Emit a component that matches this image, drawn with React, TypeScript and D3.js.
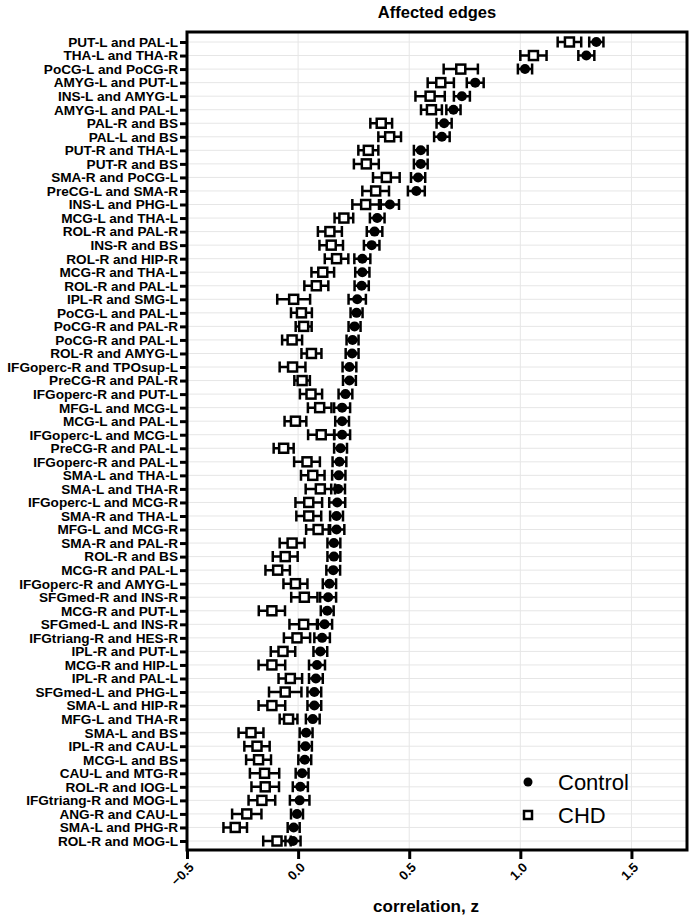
import React, { useEffect, useRef } from 'react';
import * as d3 from 'd3';

const labels = [
  'PUT-L and PAL-L', 'THA-L and THA-R', 'PoCG-L and PoCG-R', 'AMYG-L and PUT-L', 'INS-L and AMYG-L',
  'AMYG-L and PAL-L', 'PAL-R and BS', 'PAL-L and BS', 'PUT-R and THA-L', 'PUT-R and BS',
  'SMA-R and PoCG-L', 'PreCG-L and SMA-R', 'INS-L and PHG-L', 'MCG-L and THA-L', 'ROL-R and PAL-R',
  'INS-R and BS', 'ROL-R and HIP-R', 'MCG-R and THA-L', 'ROL-R and PAL-L', 'IPL-R and SMG-L',
  'PoCG-L and PAL-L', 'PoCG-R and PAL-R', 'PoCG-R and PAL-L', 'ROL-R and AMYG-L', 'IFGoperc-R and TPOsup-L',
  'PreCG-R and PAL-R', 'IFGoperc-R and PUT-L', 'MFG-L and MCG-L', 'MCG-L and PAL-L', 'IFGoperc-L and MCG-L',
  'PreCG-R and PAL-L', 'IFGoperc-R and PAL-L', 'SMA-L and THA-L', 'SMA-L and THA-R', 'IFGoperc-L and MCG-R',
  'SMA-R and THA-L', 'MFG-L and MCG-R', 'SMA-R and PAL-R', 'ROL-R and BS', 'MCG-R and PAL-L',
  'IFGoperc-R and AMYG-L', 'SFGmed-R and INS-R', 'MCG-R and PUT-L', 'SFGmed-L and INS-R', 'IFGtriang-R and HES-R',
  'IPL-R and PUT-L', 'MCG-R and HIP-L', 'IPL-R and PAL-L', 'SFGmed-L and PHG-L', 'SMA-L and HIP-R',
  'MFG-L and THA-R', 'SMA-L and BS', 'IPL-R and CAU-L', 'MCG-L and BS', 'CAU-L and MTG-R',
  'ROL-R and IOG-L', 'IFGtriang-R and MOG-L', 'ANG-R and CAU-L', 'SMA-L and PHG-R', 'ROL-R and MOG-L',
];

const controlMean = [
  1.342, 1.297, 1.021, 0.797, 0.737, 0.699, 0.657, 0.647, 0.552, 0.552,
  0.540, 0.532, 0.413, 0.356, 0.344, 0.331, 0.289, 0.289, 0.286, 0.266,
  0.263, 0.254, 0.245, 0.243, 0.231, 0.231, 0.213, 0.198, 0.198, 0.198,
  0.191, 0.186, 0.183, 0.180, 0.176, 0.173, 0.173, 0.161, 0.161, 0.158,
  0.141, 0.135, 0.131, 0.119, 0.108, 0.100, 0.085, 0.080, 0.073, 0.073,
  0.066, 0.036, 0.033, 0.030, 0.018, 0.010, 0.007, -0.005, -0.020, -0.023,
];
const controlErr = [
  0.032, 0.036, 0.032, 0.038, 0.036, 0.032, 0.034, 0.035, 0.031, 0.031,
  0.032, 0.038, 0.041, 0.033, 0.035, 0.035, 0.036, 0.032, 0.032, 0.039,
  0.027, 0.027, 0.027, 0.029, 0.031, 0.029, 0.031, 0.036, 0.031, 0.036,
  0.029, 0.031, 0.030, 0.031, 0.036, 0.029, 0.035, 0.029, 0.029, 0.031,
  0.030, 0.036, 0.029, 0.034, 0.035, 0.031, 0.036, 0.031, 0.031, 0.031,
  0.031, 0.029, 0.029, 0.029, 0.029, 0.034, 0.044, 0.027, 0.027, 0.034,
];
const chdMean = [
  1.221, 1.059, 0.732, 0.642, 0.594, 0.600, 0.374, 0.412, 0.316, 0.307,
  0.397, 0.349, 0.304, 0.206, 0.143, 0.149, 0.173, 0.111, 0.082, -0.020,
  0.015, 0.025, -0.027, 0.060, -0.025, 0.018, 0.058, 0.097, -0.012, 0.104,
  -0.065, 0.040, 0.066, 0.100, 0.048, 0.048, 0.090, -0.027, -0.058, -0.092,
  -0.012, 0.028, -0.118, 0.025, -0.005, -0.068, -0.118, -0.035, -0.058, -0.118,
  -0.043, -0.212, -0.185, -0.178, -0.151, -0.148, -0.163, -0.231, -0.283, -0.095,
];
const chdErr = [
  0.053, 0.059, 0.077, 0.059, 0.066, 0.047, 0.049, 0.051, 0.045, 0.056,
  0.060, 0.060, 0.060, 0.042, 0.054, 0.053, 0.053, 0.051, 0.054, 0.074,
  0.047, 0.036, 0.045, 0.045, 0.058, 0.035, 0.050, 0.053, 0.049, 0.059,
  0.045, 0.058, 0.053, 0.066, 0.060, 0.056, 0.054, 0.056, 0.056, 0.055,
  0.054, 0.059, 0.059, 0.064, 0.059, 0.055, 0.060, 0.053, 0.073, 0.060,
  0.040, 0.056, 0.057, 0.056, 0.066, 0.062, 0.060, 0.066, 0.053, 0.062,
];

const xTicks = [-0.5, 0, 0.5, 1.0, 1.5];

const FONT = 'Arial, "Liberation Sans", Helvetica, sans-serif';

export default function App() {
  const svgRef = useRef(null);

  useEffect(() => {
    document.body.style.margin = '0';
    const w = 694;
    const h = 919;
    const left = 187, right = 687, top = 32, bottom = 850;

    const svg = d3.select(svgRef.current)
      .attr('width', w)
      .attr('height', h)
      .style('display', 'block')
      .style('font-family', FONT);
    svg.selectAll('*').remove();

    const x = d3.scaleLinear().domain([-0.5, 1.75]).range([left, right]);
    const y = d3.scalePoint().domain(labels).range([top + 10, bottom - 9]);

    // grid
    const grid = svg.append('g').attr('stroke', '#e6e6e6').attr('stroke-width', 1);
    grid.selectAll('line.v')
      .data(xTicks)
      .enter()
      .append('line')
      .attr('x1', d => x(d)).attr('x2', d => x(d))
      .attr('y1', top).attr('y2', bottom);
    grid.selectAll('line.h')
      .data(labels)
      .enter()
      .append('line')
      .attr('x1', left).attr('x2', right)
      .attr('y1', d => y(d)).attr('y2', d => y(d));

    // y axis labels + ticks
    const yAxis = d3.axisLeft(y).tickSize(7).tickPadding(2);
    const gy = svg.append('g').attr('transform', `translate(${left},0)`).call(yAxis);
    gy.select('.domain').remove();
    gy.selectAll('.tick line').attr('stroke', '#000').attr('stroke-width', 3);
    gy.selectAll('.tick text')
      .attr('fill', '#000')
      .style('font-family', FONT)
      .style('font-size', '13.6px')
      .style('font-weight', 'bold');

    // x axis
    const xAxis = d3.axisBottom(x).tickValues(xTicks).tickSize(9).tickFormat(d3.format('.1f'));
    const gx = svg.append('g').attr('transform', `translate(0,${bottom})`).call(xAxis);
    gx.select('.domain').remove();
    gx.selectAll('.tick line').attr('stroke', '#000').attr('stroke-width', 3);
    gx.selectAll('.tick text')
      .attr('fill', '#000')
      .attr('text-anchor', 'end')
      .attr('transform', 'translate(4,15) rotate(-45)')
      .attr('x', 0).attr('y', 0).attr('dy', '0.35em')
      .style('font-family', FONT)
      .style('font-size', '13px')
      .style('font-weight', 'bold');

    // frame
    svg.append('rect')
      .attr('x', left).attr('y', top)
      .attr('width', right - left).attr('height', bottom - top)
      .attr('fill', 'none').attr('stroke', '#000').attr('stroke-width', 3);

    const rows = labels.map((l, i) => ({
      label: l,
      c: controlMean[i], ce: controlErr[i],
      g: chdMean[i], ge: chdErr[i],
    }));

    const drawErr = (g, mean, err, cap) => {
      g.selectAll(null)
        .data(rows)
        .enter()
        .append('path')
        .attr('fill', 'none')
        .attr('stroke', '#000')
        .attr('stroke-width', 2.5)
        .attr('d', d => {
          const yy = y(d.label);
          const x0 = x(mean(d) - err(d));
          const x1 = x(mean(d) + err(d));
          return `M${x0},${yy}H${x1}M${x0},${yy - cap}V${yy + cap}M${x1},${yy - cap}V${yy + cap}`;
        });
    };

    // CHD first, control on top
    const chdG = svg.append('g');
    drawErr(chdG, d => d.g, d => d.ge, 5.5);
    chdG.selectAll('rect')
      .data(rows)
      .enter()
      .append('rect')
      .attr('x', d => x(d.g) - 4.5)
      .attr('y', d => y(d.label) - 4.5)
      .attr('width', 9).attr('height', 9)
      .attr('fill', '#fff').attr('stroke', '#000').attr('stroke-width', 2.5);

    const ctlG = svg.append('g');
    drawErr(ctlG, d => d.c, d => d.ce, 5.5);
    ctlG.selectAll('circle')
      .data(rows)
      .enter()
      .append('circle')
      .attr('cx', d => x(d.c))
      .attr('cy', d => y(d.label))
      .attr('r', 5)
      .attr('fill', '#000');

    // titles
    svg.append('text')
      .attr('x', 437).attr('y', 18)
      .attr('text-anchor', 'middle')
      .style('font-size', '16.5px').style('font-weight', 'bold')
      .text('Affected edges');

    svg.append('text')
      .attr('x', 426).attr('y', 912)
      .attr('text-anchor', 'middle')
      .style('font-size', '17px').style('font-weight', 'bold')
      .text('correlation, z');

    // legend
    const leg = svg.append('g');
    leg.append('circle').attr('cx', 528).attr('cy', 782).attr('r', 4.5).attr('fill', '#000');
    leg.append('rect')
      .attr('x', 524).attr('y', 811).attr('width', 8).attr('height', 8)
      .attr('fill', '#fff').attr('stroke', '#000').attr('stroke-width', 2.5);
    leg.append('text').attr('x', 558).attr('y', 782).attr('dy', '0.35em')
      .style('font-size', '22px').text('Control');
    leg.append('text').attr('x', 558).attr('y', 815).attr('dy', '0.35em')
      .style('font-size', '22px').text('CHD');
  }, []);

  return (
    <div>
      <svg ref={svgRef} />
    </div>
  );
}
